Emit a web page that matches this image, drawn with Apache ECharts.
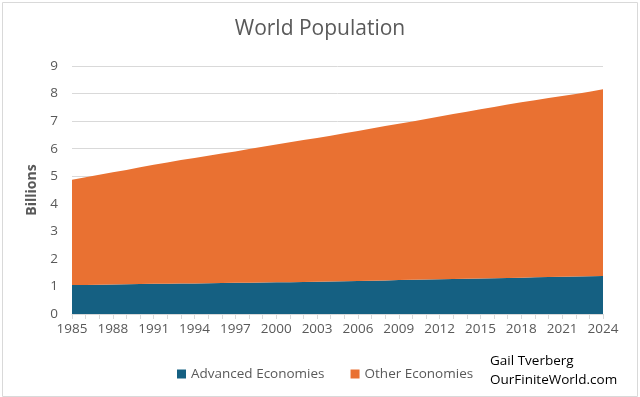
<!DOCTYPE html>
<html>
<head>
    <meta charset="UTF-8">
    <title>World Population</title>
    <style type="text/css">
        html, body {
            margin: 0;
            padding: 0;
            background: #ffffff;
        }

        #main {
            width: 640px;
            height: 397px;
        }
    </style>
    <script type="text/javascript" src="https://cdn.jsdelivr.net/npm/echarts@6/dist/echarts.min.js"></script>
</head>
<body>
<div id="main"></div>
<script type="text/javascript">
    // 年份
    var years = ['1985', '1986', '1987', '1988', '1989', '1990', '1991', '1992', '1993', '1994',
        '1995', '1996', '1997', '1998', '1999', '2000', '2001', '2002', '2003', '2004',
        '2005', '2006', '2007', '2008', '2009', '2010', '2011', '2012', '2013', '2014',
        '2015', '2016', '2017', '2018', '2019', '2020', '2021', '2022', '2023', '2024'];
    // billions
    var advanced = [1.05, 1.055, 1.06, 1.07, 1.08, 1.09, 1.095, 1.10, 1.105, 1.11,
        1.12, 1.125, 1.13, 1.135, 1.14, 1.15, 1.155, 1.16, 1.17, 1.18,
        1.19, 1.20, 1.21, 1.22, 1.23, 1.24, 1.25, 1.26, 1.27, 1.28,
        1.29, 1.30, 1.31, 1.32, 1.33, 1.34, 1.35, 1.36, 1.37, 1.38];
    var other = [3.82, 3.91, 3.99, 4.07, 4.15, 4.24, 4.32, 4.40, 4.48, 4.55,
        4.62, 4.70, 4.77, 4.85, 4.93, 5.00, 5.08, 5.15, 5.22, 5.29,
        5.37, 5.44, 5.52, 5.60, 5.67, 5.75, 5.83, 5.91, 5.99, 6.06,
        6.14, 6.21, 6.29, 6.36, 6.43, 6.50, 6.56, 6.62, 6.70, 6.78];

    var font = 'Open Sans, Liberation Sans, sans-serif';
    var grey = '#595959';

    var myChart = echarts.init(document.getElementById('main'));
    var option = {
        animation: false,
        textStyle: {fontFamily: font},
        title: {
            text: 'World Population',
            left: 'center',
            top: 14,
            textStyle: {fontSize: 21, fontWeight: 'normal', color: grey, fontFamily: font}
        },
        legend: {
            data: ['Advanced Economies', 'Other Economies'],
            left: 172,
            top: 362,
            itemWidth: 9,
            itemHeight: 9,
            itemGap: 26,
            icon: 'rect',
            textStyle: {fontSize: 13.5, color: grey, fontFamily: font}
        },
        grid: {
            left: 72,
            right: 37,
            top: 66,
            bottom: 83
        },
        xAxis: {
            type: 'category',
            boundaryGap: false,
            data: years,
            axisLine: {lineStyle: {color: '#d9d9d9'}},
            axisTick: {show: true, interval: 0, length: 5, lineStyle: {color: '#d9d9d9'}},
            axisLabel: {interval: 2, color: grey, fontSize: 13.5, margin: 8, fontFamily: font}
        },
        yAxis: {
            type: 'value',
            min: 0,
            max: 9,
            interval: 1,
            name: 'Billions',
            nameLocation: 'middle',
            nameGap: 32,
            nameTextStyle: {fontSize: 14, fontWeight: 'bold', color: grey, fontFamily: font},
            axisLine: {show: false},
            axisTick: {show: false},
            axisLabel: {color: grey, fontSize: 13.5, margin: 14, fontFamily: font},
            splitLine: {lineStyle: {color: '#d9d9d9'}}
        },
        series: [
            {
                name: 'Advanced Economies',
                type: 'line',
                stack: 'pop',
                data: advanced,
                symbol: 'none',
                lineStyle: {width: 0},
                itemStyle: {color: '#156082'},
                areaStyle: {color: '#156082', opacity: 1}
            },
            {
                name: 'Other Economies',
                type: 'line',
                stack: 'pop',
                data: other,
                symbol: 'none',
                lineStyle: {width: 0},
                itemStyle: {color: '#E97132'},
                areaStyle: {color: '#E97132', opacity: 1}
            }
        ],
        graphic: [
            {
                type: 'text',
                left: 490,
                top: 354,
                style: {text: 'Gail Tverberg', fill: '#000', fontSize: 13.5, fontFamily: font}
            },
            {
                type: 'text',
                left: 490,
                top: 373,
                style: {text: 'OurFiniteWorld.com', fill: '#000', fontSize: 13.5, fontFamily: font}
            },
            {
                type: 'rect',
                left: 0,
                top: 0,
                shape: {width: 635, height: 394},
                style: {fill: 'none', stroke: '#d9d9d9', lineWidth: 1}
            }
        ]
    };
    myChart.setOption(option);
</script>
</body>
</html>
